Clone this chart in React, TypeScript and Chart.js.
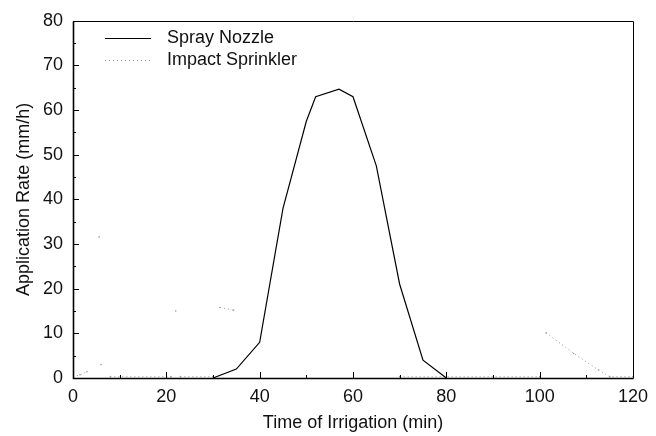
import React, { useEffect, useRef } from "react";
import { Chart, registerables } from "chart.js";

Chart.register(...registerables);

// Spray Nozzle
const sprayTime = [30, 35, 40, 45, 50, 52, 57, 60, 65, 70, 75, 80];
const sprayRate = [0, 2, 8, 38, 57.5, 63, 64.7, 63, 47.5, 21, 4, 0];

// Impact Sprinkler (faint dotted trace; null rate = gap where nothing is visible)
const impactTime = [0, 1.5, 3, 4.5, 5.6, 5.8, 6, 7, 8, 21, 21.5, 22, 22.5, 23, 30, 31, 31.5, 34.4, 50, 70, 100, 101, 101.4, 107.3, 112.6, 115, 120];
const impactRate = [0.3, 0.7, 1.4, null, 31.6, null, 3, null, 0.3, 0.3, null, 15, null, 0.3, 0.3, null, 15.8, 15.2, null, 0.3, 0.3, null, 10.1, 5.5, 1.8, 0.3, 0.3];

const xTicks = [0, 20, 40, 60, 80, 100, 120];
const yTicks = [0, 10, 20, 30, 40, 50, 60, 70, 80];

const seriesNames = ["Spray Nozzle", "Impact Sprinkler"];
const FONT = "'Liberation Sans', Arial, Helvetica, sans-serif";

const framePlugin = {
  id: "framePlugin",
  afterDraw(chart: any) {
    const { ctx, chartArea } = chart;
    const { left, right, top, bottom } = chartArea;
    const xs = chart.scales.x;
    const ys = chart.scales.y;
    const L = Math.round(left) + 0.5;
    const R = Math.round(right) + 0.5;
    const T = Math.round(top) + 0.5;
    const B = Math.round(bottom) + 0.5;
    ctx.save();
    ctx.strokeStyle = "#000";
    ctx.lineWidth = 1;
    ctx.beginPath();
    ctx.moveTo(L, T);
    ctx.lineTo(R, T);
    ctx.lineTo(R, B);
    ctx.stroke();
    ctx.lineWidth = 1.6;
    ctx.beginPath();
    ctx.moveTo(L, T);
    ctx.lineTo(L, B);
    ctx.lineTo(R, B);
    ctx.stroke();
    ctx.lineWidth = 1;
    ctx.beginPath();
    for (let v = 0; v <= 120; v += 10) {
      const px = Math.round(xs.getPixelForValue(v)) + 0.5;
      const len = v % 20 === 0 ? 6 : 3;
      ctx.moveTo(px, bottom);
      ctx.lineTo(px, bottom - len);
    }
    for (let v = 0; v <= 80; v += 5) {
      const py = Math.round(ys.getPixelForValue(v)) + 0.5;
      const len = v % 10 === 0 ? 6 : 3;
      ctx.moveTo(left, py);
      ctx.lineTo(left + len, py);
    }
    ctx.stroke();

    // legend
    const rows = [38, 60];
    chart.data.datasets.forEach((ds: any, i: number) => {
      const y = rows[i] + 0.5;
      ctx.beginPath();
      ctx.strokeStyle = ds.borderColor;
      ctx.lineWidth = ds.borderWidth;
      ctx.setLineDash(ds.borderDash || []);
      ctx.moveTo(105, y);
      ctx.lineTo(151, y);
      ctx.stroke();
      ctx.setLineDash([]);
      ctx.fillStyle = "#111";
      ctx.font = `18px ${FONT}`;
      ctx.textBaseline = "middle";
      ctx.textAlign = "left";
      ctx.fillText(seriesNames[i], 167, rows[i]);
    });
    ctx.restore();
  },
};

export default function App() {
  const ref = useRef<HTMLCanvasElement>(null);
  useEffect(() => {
    document.body.style.margin = "0";
    const spray = sprayTime.map((t, i) => ({ x: t, y: sprayRate[i] }));
    const impact = impactTime.map((t, i) => ({ x: t, y: impactRate[i] }));
    const chart = new Chart(ref.current as HTMLCanvasElement, {
      type: "line",
      data: {
        datasets: [
          {
            label: seriesNames[0],
            data: spray,
            borderColor: "#000",
            borderWidth: 1.2,
            pointRadius: 0,
            tension: 0,
          },
          {
            label: seriesNames[1],
            data: impact as any,
            borderColor: "#9a9a9a",
            borderWidth: 1,
            borderDash: [1, 3],
            pointRadius: 0.8,
            pointBorderWidth: 0,
            pointBackgroundColor: "#9a9a9a",
            spanGaps: false,
            tension: 0,
          },
        ],
      },
      options: {
        animation: false,
        responsive: false,
        layout: { padding: { top: 16, right: 21, left: 0, bottom: 0 } },
        plugins: { legend: { display: false }, tooltip: { enabled: false } },
        scales: {
          x: {
            type: "linear",
            min: 0,
            max: 120,
            afterBuildTicks: (s: any) => {
              s.ticks = xTicks.map((v) => ({ value: v }));
            },
            afterFit: (s: any) => {
              s.height = 58;
            },
            grid: { display: false, drawTicks: false },
            border: { display: false },
            ticks: { color: "#111", font: { family: FONT, size: 18 }, padding: 8, maxRotation: 0 },
            title: {
              display: true,
              text: "Time of Irrigation (min)",
              color: "#111",
              font: { family: FONT, size: 18 },
              padding: { top: 0, bottom: 2 },
            },
          },
          y: {
            type: "linear",
            min: 0,
            max: 80,
            afterBuildTicks: (s: any) => {
              s.ticks = yTicks.map((v) => ({ value: v }));
            },
            afterFit: (s: any) => {
              s.width = 73;
            },
            grid: { display: false, drawTicks: false },
            border: { display: false },
            ticks: { color: "#111", font: { family: FONT, size: 18 }, padding: 10 },
            title: {
              display: true,
              text: "Application Rate (mm/h)",
              color: "#111",
              font: { family: FONT, size: 18 },
              padding: { top: 13, bottom: 0 },
            },
          },
        },
      },
      plugins: [framePlugin],
    });
    return () => chart.destroy();
  }, []);
  return <canvas ref={ref} width={656} height={436} style={{ display: "block" }} />;
}
